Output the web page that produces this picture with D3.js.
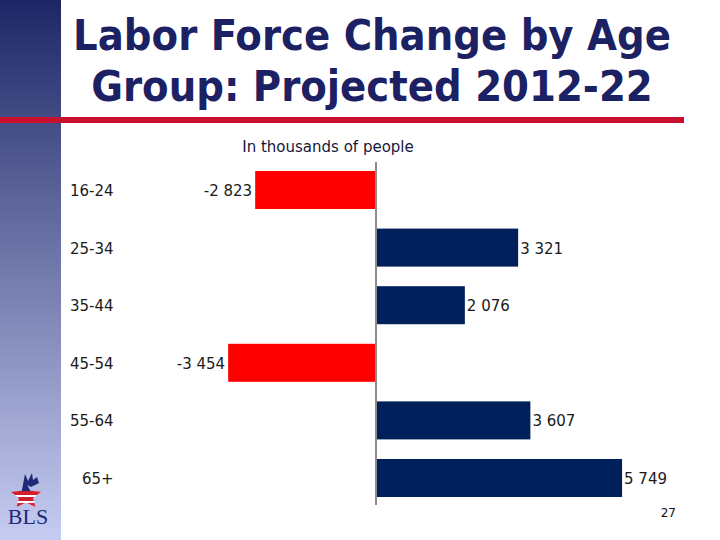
<!DOCTYPE html>
<html>
<head>
<meta charset="utf-8">
<script src="https://d3js.org/d3.v7.min.js"></script>
<style>
  body { margin: 0; background: #fff; }
  svg text { font-family: "DejaVu Sans", Verdana, sans-serif; }
  svg text.title { font-family: "DejaVu Sans Condensed", "DejaVu Sans", sans-serif; font-stretch: condensed; }
</style>
</head>
<body>
<svg id="slide" width="720" height="540"></svg>
<script>
var ageGroups = ["16-24", "25-34", "35-44", "45-54", "55-64", "65+"];
var changes = [-2823, 3321, 2076, -3454, 3607, 5749];
var valueLabels = ["-2 823", "3 321", "2 076", "-3 454", "3 607", "5 749"];

var svg = d3.select("#slide");

// left gradient band
var defs = svg.append("defs");
var grad = defs.append("linearGradient")
    .attr("id", "side").attr("x1", 0).attr("y1", 0).attr("x2", 0).attr("y2", 1);
grad.append("stop").attr("offset", "0%").attr("stop-color", "#1e2766");
grad.append("stop").attr("offset", "100%").attr("stop-color", "#c6ccf1");

svg.append("rect")
    .attr("x", 0).attr("y", 0).attr("width", 61).attr("height", 540)
    .attr("fill", "url(#side)");

// red rule under the title
svg.append("rect")
    .attr("x", 0).attr("y", 117).attr("width", 684).attr("height", 6)
    .attr("fill", "#c8102e");

// title
var title = svg.append("g")
    .attr("fill", "#1c2163")
    .attr("font-weight", "bold")
    .attr("font-size", 43);
title.append("text")
    .attr("class", "title")
    .attr("x", 372).attr("y", 50)
    .attr("text-anchor", "middle")
    .text("Labor Force Change by Age");
title.append("text")
    .attr("class", "title")
    .attr("x", 372).attr("y", 101)
    .attr("text-anchor", "middle")
    .text("Group: Projected 2012-22");

svg.append("text")
    .attr("x", 328).attr("y", 152)
    .attr("text-anchor", "middle")
    .attr("font-size", 15)
    .attr("fill", "#16183a")
    .text("In thousands of people");

// chart
var data = ageGroups.map(function(g, i) {
  return { group: g, value: changes[i], label: valueLabels[i] };
});

var x = d3.scaleLinear().domain([-4000, 6000]).range([204.8, 632.8]);
var y = d3.scaleBand().domain(ageGroups).range([161.2, 506.8])
    .paddingInner(0.34).paddingOuter(0.17);

svg.selectAll("rect.bar")
    .data(data)
  .enter().append("rect")
    .attr("class", "bar")
    .attr("x", function(d) { return x(Math.min(0, d.value)); })
    .attr("y", function(d) { return y(d.group); })
    .attr("width", function(d) { return Math.abs(x(d.value) - x(0)); })
    .attr("height", y.bandwidth())
    .attr("fill", function(d) { return d.value < 0 ? "#ff0000" : "#00205b"; });

// zero line
svg.append("line")
    .attr("x1", x(0)).attr("x2", x(0))
    .attr("y1", 162).attr("y2", 505)
    .attr("stroke", "#8c8c8c").attr("stroke-width", 2);

svg.selectAll("text.cat")
    .data(data)
  .enter().append("text")
    .attr("class", "cat")
    .attr("x", function(d) { return d.group === "65+" ? 82 : 70; })
    .attr("y", function(d) { return y(d.group) + y.bandwidth() / 2 + 6; })
    .attr("font-size", 15)
    .attr("fill", "#1a1a1a")
    .text(function(d) { return d.group; });

svg.selectAll("text.val")
    .data(data)
  .enter().append("text")
    .attr("class", "val")
    .attr("x", function(d) { return d.value < 0 ? x(d.value) - 3 : x(d.value) + 2; })
    .attr("y", function(d) { return y(d.group) + y.bandwidth() / 2 + 6; })
    .attr("text-anchor", function(d) { return d.value < 0 ? "end" : "start"; })
    .attr("font-size", 15)
    .attr("fill", "#1a1a1a")
    .text(function(d) { return d.label; });

// page number
svg.append("text")
    .attr("x", 676).attr("y", 517)
    .attr("text-anchor", "end")
    .attr("font-size", 12)
    .attr("fill", "#111")
    .text("27");

// BLS logo
var logo = svg.append("g").attr("transform", "translate(26,496)");
var starPts = d3.range(10).map(function(i) {
  var r = i % 2 === 0 ? 16 : 7.5;
  var a = -Math.PI / 2 + i * Math.PI / 5;
  return [r * Math.cos(a), r * Math.sin(a) * 0.85];
});
defs.append("clipPath").attr("id", "starclip")
  .append("polygon").attr("points", starPts.map(function(p) { return p.join(","); }).join(" "));
var star = logo.append("g").attr("clip-path", "url(#starclip)");
star.append("rect").attr("x", -17).attr("y", -17).attr("width", 34).attr("height", 34).attr("fill", "#fff");
[-5, 1, 7].forEach(function(s) {
  star.append("rect").attr("x", -17).attr("y", s).attr("width", 34).attr("height", 4).attr("fill", "#d21f2b");
});
star.append("rect").attr("x", -17).attr("y", -17).attr("width", 34).attr("height", 12).attr("fill", "#1e2a78");
logo.append("path")
    .attr("d", "M-4,-6 L-1,-22 L2,-15 L6,-23 L7,-16 L11,-19 L13,-13 L5,-9 L1,-11 L0,-6 Z")
    .attr("fill", "#1e2a78");
logo.append("text")
    .attr("x", 2).attr("y", 28)
    .attr("text-anchor", "middle")
    .style("font-family", "'Liberation Serif', 'DejaVu Serif', serif")
    .attr("font-size", 22)
    .attr("fill", "#1e2a78")
    .text("BLS");
</script>
</body>
</html>
